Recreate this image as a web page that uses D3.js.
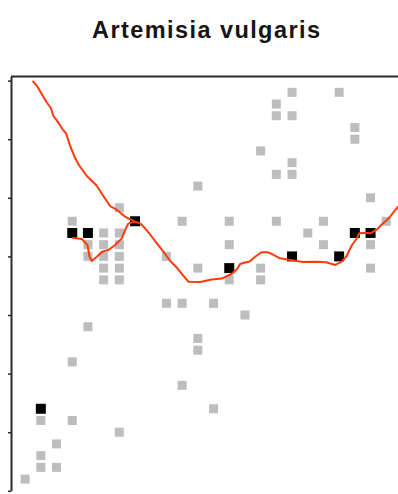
<!DOCTYPE html>
<html>
<head>
<meta charset="utf-8">
<script src="https://cdn.jsdelivr.net/npm/d3@7"></script>
<style>
  html, body { margin: 0; padding: 0; background: #fff; }
  svg { display: block; }
</style>
</head>
<body>
<svg id="chart"></svg>
<script>
// title
const title = "Artemisia vulgaris";

// y axis tick values (labels fall outside the cropped view)
const yTicks = [0, 5, 10, 15, 20, 25, 30, 35];

// grey squares: [x, y]
const graySquares = [
  [4, 23], [6, 22], [7, 22], [7, 24.15], [5, 21], [6, 21], [7, 21],
  [5, 20], [6, 20], [7, 20], [6, 19], [7, 19], [6, 18], [7, 18],
  [16, 29], [12, 26], [11, 23], [14, 23], [14, 21], [10, 20], [12, 19],
  [16, 19], [14, 18], [16, 18],
  [18, 34], [21, 34], [17, 33], [17, 32], [18, 32], [22, 31], [22, 30],
  [18, 28], [17, 27], [18, 27], [23, 25], [17, 23], [20, 23], [19, 22],
  [20, 21], [23, 21], [24, 23], [23, 19],
  [10, 16], [11, 16], [13, 16], [15, 15], [5, 14], [12, 13], [12, 12],
  [4, 11], [11, 9], [13, 7], [2, 6], [4, 6], [7, 5], [3, 4], [2, 3],
  [2, 2], [3, 2], [1, 1]
];

// black squares: [x, y]
const blackSquares = [
  [4, 22], [5, 22], [8, 23], [14, 19], [18, 20], [21, 20], [22, 22], [23, 22], [2, 7]
];

// smoothed response line, main run
const curveMain = [
  [1.47, 34.97], [1.76, 34.54], [2.02, 33.94], [2.38, 33.13], [2.64, 32.66],
  [2.80, 31.98], [3.12, 31.41], [3.42, 30.79], [3.61, 30.50], [3.87, 29.42],
  [4.19, 28.37], [4.44, 27.76], [4.93, 26.86], [5.55, 26.05], [5.94, 25.24],
  [6.41, 24.30], [6.89, 23.92], [7.37, 23.39], [7.58, 23.25], [8.01, 22.96],
  [8.33, 22.82], [8.64, 22.40], [8.96, 21.87], [9.39, 21.12], [9.81, 20.40],
  [10.24, 19.61], [10.66, 19.05], [10.98, 18.50], [11.40, 17.84], [12.15, 17.82],
  [12.88, 18.03], [13.52, 18.11], [14.15, 18.50], [14.50, 18.92], [14.69, 19.35],
  [15.01, 19.48], [15.30, 19.56], [15.65, 19.97], [16.06, 20.35], [16.41, 20.36],
  [16.73, 20.20], [17.24, 19.84], [17.88, 19.69], [18.71, 19.52], [19.47, 19.55],
  [20.17, 19.50], [20.75, 19.27], [21.15, 19.55], [21.45, 19.97], [21.80, 20.93],
  [22.12, 21.53], [22.27, 21.97], [22.64, 22.02], [22.98, 21.97], [23.42, 22.30],
  [23.71, 22.72], [24.03, 23.08], [24.25, 23.39], [24.57, 23.96], [24.76, 24.24],
  [25.01, 24.56]
];

// smoothed response line, short left branch
const curveBranch = [
  [3.98, 21.60], [4.61, 21.48], [4.97, 20.97], [5.10, 19.97], [5.25, 19.61],
  [5.57, 19.97], [5.89, 20.40], [6.31, 20.55], [6.73, 20.97], [7.16, 21.54],
  [7.37, 22.25], [7.58, 22.82], [8.01, 22.96]
];

// set the dimensions of the graph
var width = 398, height = 494;

var svg = d3.select("#chart")
    .attr("width", width)
    .attr("height", height);

// scales (plot is cropped at right and bottom)
var x = d3.scaleLinear()
    .domain([0.1, 25.5])
    .range([11, 409.8]);

var y = d3.scaleLinear()
    .domain([0, 35.35])
    .range([490.8, 76.5]);

// title
svg.append("text")
    .attr("x", 206)
    .attr("y", 38)
    .attr("text-anchor", "middle")
    .attr("textLength", 228)
    .attr("lengthAdjust", "spacing")
    .style("font-family", "'Liberation Sans', Arial, sans-serif")
    .style("font-weight", "bold")
    .style("font-size", "23.5px")
    .style("fill", "#151515")
    .text(title);

// grey squares
var sg = 9;
svg.append("g")
    .selectAll("rect")
    .data(graySquares)
    .join("rect")
        .attr("x", function(d) { return x(d[0]) - sg / 2; })
        .attr("y", function(d) { return y(d[1]) - sg / 2; })
        .attr("width", sg)
        .attr("height", sg)
        .attr("fill", "#bdbdbd");

// black squares
var sb = 10;
svg.append("g")
    .selectAll("rect")
    .data(blackSquares)
    .join("rect")
        .attr("x", function(d) { return x(d[0]) - sb / 2; })
        .attr("y", function(d) { return y(d[1]) - sb / 2; })
        .attr("width", sb)
        .attr("height", sb)
        .attr("fill", "#000");

// red line
var line = d3.line()
    .x(function(d) { return x(d[0]); })
    .y(function(d) { return y(d[1]); });

svg.append("g")
    .selectAll("path")
    .data([curveMain, curveBranch])
    .join("path")
        .attr("d", line)
        .attr("fill", "none")
        .attr("stroke", "#ff3a0a")
        .attr("stroke-width", 2)
        .attr("stroke-linejoin", "round");

// top frame line
svg.append("line")
    .attr("x1", x(0.1))
    .attr("x2", width + 10)
    .attr("y1", y(35.35))
    .attr("y2", y(35.35))
    .attr("stroke", "#2b2b2b")
    .attr("stroke-width", 2);

// Y axis
var yAxis = svg.append("g")
    .attr("transform", "translate(" + x(0.1) + ",0)")
    .call(d3.axisLeft(y).tickValues(yTicks).tickSize(3).tickSizeOuter(0).tickFormat(""));
yAxis.select(".domain")
    .attr("stroke", "#2b2b2b")
    .attr("stroke-width", 2);
yAxis.selectAll(".tick line")
    .attr("stroke", "#2b2b2b")
    .attr("stroke-width", 1.5);
</script>
</body>
</html>
